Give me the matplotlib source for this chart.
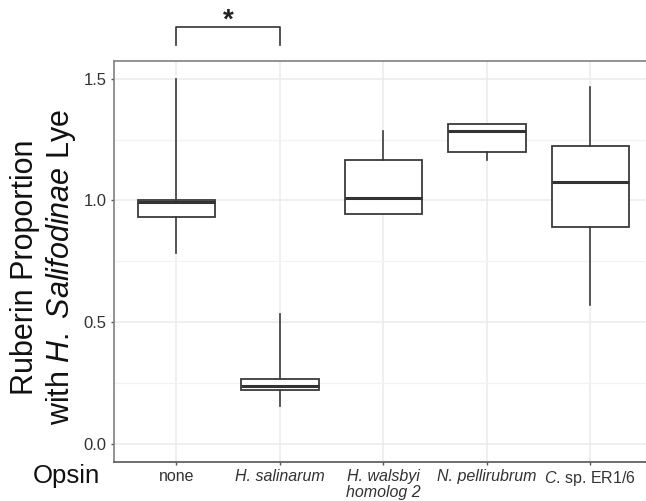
import matplotlib.pyplot as plt
from matplotlib.ticker import FixedLocator, FormatStrFormatter

plt.rcParams['font.family'] = ['Liberation Sans', 'DejaVu Sans']
plt.rcParams['mathtext.fontset'] = 'custom'
plt.rcParams['mathtext.rm'] = 'Liberation Sans'
plt.rcParams['mathtext.it'] = 'Liberation Sans:italic'

# categories and box statistics
opsins = ['none', 'H. salinarum', 'H. walsbyi homolog 2', 'N. pellirubrum', 'C. sp. ER1/6']
tick_labels = ['none', 'H. salinarum', 'H. walsbyi\nhomolog 2', 'N. pellirubrum', r'$\mathit{C}$. sp. ER1/6']
italic_ticks = [False, True, True, True, False]
whislo = [0.785, 0.153, 0.943, 1.168, 0.568]
q1 = [0.931, 0.222, 0.946, 1.200, 0.892]
med = [0.993, 0.237, 1.009, 1.285, 1.074]
q3 = [1.000, 0.266, 1.164, 1.312, 1.222]
whishi = [1.497, 0.534, 1.284, 1.312, 1.466]

# significance comparison (none vs H. salinarum)
sig_pair = (1, 2)
sig_y = 1.712
sig_drop = 0.075

stats = []
for i, name in enumerate(opsins):
    stats.append({'label': name, 'whislo': whislo[i], 'q1': q1[i], 'med': med[i],
                  'q3': q3[i], 'whishi': whishi[i], 'fliers': []})

fig = plt.figure(figsize=(6.46, 5.01), dpi=100)
ax = fig.add_axes([0.177, 0.0778, 0.833, 0.8014])

ax.bxp(stats, positions=range(1, len(opsins) + 1), widths=0.75, patch_artist=True,
       showcaps=False, showfliers=False,
       boxprops=dict(facecolor='white', edgecolor='#3a3a3a', linewidth=1.3),
       medianprops=dict(color='#333333', linewidth=2.2),
       whiskerprops=dict(color='#3a3a3a', linewidth=1.2),
       zorder=3)

ax.set_xlim(0.4, 5.6)
ax.set_ylim(-0.0756, 1.575)
ax.yaxis.set_major_locator(FixedLocator([0.0, 0.5, 1.0, 1.5]))
ax.yaxis.set_minor_locator(FixedLocator([0.25, 0.75, 1.25]))
ax.yaxis.set_major_formatter(FormatStrFormatter('%.1f'))
ax.set_xticks(range(1, len(opsins) + 1))
ax.set_xticklabels(tick_labels, linespacing=1.1)
for lab, it in zip(ax.get_xticklabels(), italic_ticks):
    if it:
        lab.set_fontstyle('italic')

ax.grid(True, which='major', color='#ebebeb', linewidth=1.1, zorder=0)
ax.grid(True, which='minor', axis='y', color='#f2f2f2', linewidth=0.9, zorder=0)
ax.set_axisbelow(True)

for side in ['left', 'bottom', 'top', 'right']:
    ax.spines[side].set_color('#808080')
    ax.spines[side].set_linewidth(1.2)
ax.spines['bottom'].set_color('#555555')

ax.tick_params(axis='both', which='major', length=2.5, width=1, color='#555555',
               labelsize=12, labelcolor='#333333', pad=3)
ax.tick_params(axis='y', which='minor', length=0)
ax.tick_params(axis='x', labelsize=11.5, pad=2.5)

fig.text(0.068, 0.467, 'Ruberin Proportion\nwith ' + r'$\mathit{H.}$ $\mathit{Salifodinae}$' + ' Lye',
         rotation=90, ha='center', va='center', fontsize=22, linespacing=1.15, color='#111111')
fig.text(0.103, 0.05, 'Opsin', ha='center', va='center', fontsize=18.5, color='#111111')

# significance bracket
x0, x1 = sig_pair
ax.plot([x0, x0, x1, x1], [sig_y - sig_drop, sig_y, sig_y, sig_y - sig_drop],
        color='#333333', linewidth=1.2, clip_on=False)
ax.text((x0 + x1) / 2, sig_y - 0.028, '*', ha='center', va='bottom', fontsize=20,
        fontweight='bold', color='#222222', clip_on=False)

fig.savefig('out.png', dpi=100)
